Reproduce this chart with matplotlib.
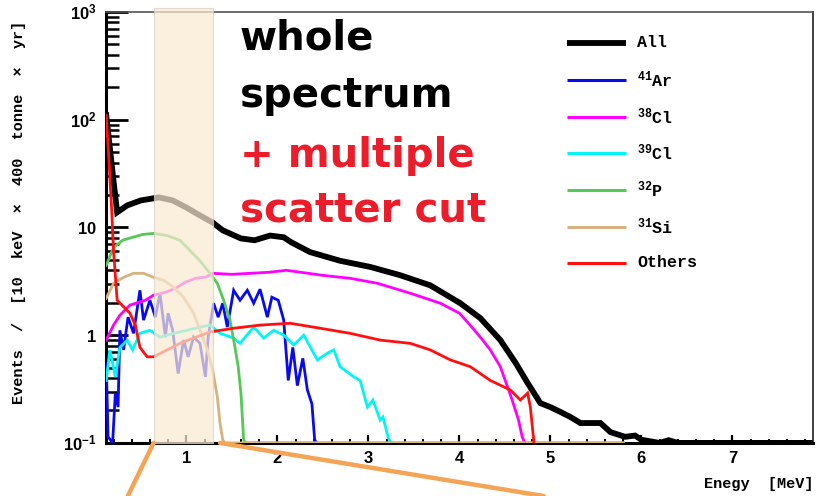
import matplotlib.pyplot as plt
from matplotlib.patches import ConnectionPatch
from matplotlib.ticker import MultipleLocator, LogLocator, NullFormatter

plt.rcParams['mathtext.fontset'] = 'custom'
plt.rcParams['mathtext.rm'] = 'Liberation Mono:bold'
plt.rcParams['mathtext.sf'] = 'Liberation Sans:bold'
plt.rcParams['mathtext.default'] = 'rm'

# Spectra (events / 10 keV / 400 t / yr) versus energy in MeV
e_all = [0.12, 0.15, 0.20, 0.24, 0.35, 0.50, 0.70, 0.85, 1.00, 1.15, 1.29, 1.40,
         1.60, 1.75, 1.92, 2.07, 2.15, 2.36, 2.69, 3.02, 3.35, 3.68, 4.01, 4.23,
         4.45, 4.62, 4.75, 4.89, 5.00, 5.11, 5.22, 5.33, 5.55, 5.66, 5.82, 5.93,
         6.00, 6.20, 6.30, 6.40, 7.90]
v_all = [110, 65, 27, 13.8, 16.0, 17.8, 19.0, 17.8, 15.3, 12.9, 11.1, 9.4,
         7.9, 7.6, 8.4, 8.1, 7.3, 5.9, 4.9, 4.3, 3.6, 2.9, 1.98, 1.44,
         0.90, 0.55, 0.36, 0.234, 0.215, 0.194, 0.174, 0.153, 0.153, 0.126, 0.114, 0.117,
         0.107, 0.1, 0.106, 0.1, 0.1]

e_ar41 = [0.12, 0.14, 0.19, 0.22, 0.25, 0.27, 0.31, 0.36, 0.42, 0.49, 0.53, 0.60,
          0.66, 0.71, 0.77, 0.80, 0.85, 0.91, 0.97, 1.02, 1.08, 1.15, 1.21, 1.24,
          1.30, 1.35, 1.40, 1.45, 1.52, 1.59, 1.67, 1.74, 1.81, 1.89, 1.94, 2.01,
          2.07, 2.12, 2.17, 2.22, 2.28, 2.33, 2.38, 2.41, 2.43]
v_ar41 = [0.55, 0.114, 0.1, 0.29, 0.215, 1.11, 0.73, 1.47, 1.04, 2.61, 1.38, 2.11,
          1.47, 2.45, 0.96, 1.60, 1.11, 0.44, 0.90, 0.63, 0.96, 0.84, 0.41, 0.96,
          1.98, 1.47, 1.98, 1.19, 2.61, 2.11, 2.61, 1.98, 2.67, 1.47, 2.25, 2.11,
          1.38, 0.38, 0.77, 0.34, 0.61, 0.31, 0.23, 0.107, 0.1]

e_cl38 = [0.12, 0.20, 0.27, 0.38, 0.55, 0.64, 0.77, 0.88, 0.99, 1.10, 1.21, 1.29,
          1.50, 1.90, 2.10, 2.50, 2.80, 3.10, 3.46, 3.79, 4.00, 4.07, 4.23, 4.34,
          4.45, 4.53, 4.58, 4.65, 4.69, 4.72]
v_cl38 = [0.90, 1.24, 1.53, 1.90, 2.11, 2.35, 2.50, 2.72, 3.10, 3.37, 3.45, 3.75,
          3.67, 3.83, 4.0, 3.59, 3.37, 3.03, 2.45, 1.98, 1.60, 1.38, 0.96, 0.73,
          0.51, 0.33, 0.25, 0.163, 0.114, 0.1]

e_cl39 = [0.12, 0.16, 0.22, 0.27, 0.35, 0.41, 0.49, 0.60, 0.71, 0.86, 1.01, 1.15,
          1.26, 1.37, 1.52, 1.59, 1.74, 1.85, 1.96, 2.07, 2.18, 2.29, 2.44, 2.55,
          2.62, 2.69, 2.84, 2.91, 2.99, 3.05, 3.13, 3.16, 3.22, 3.25]
v_cl39 = [0.38, 0.73, 0.41, 0.77, 0.90, 0.73, 1.04, 1.11, 0.96, 1.04, 1.11, 1.19,
          1.24, 1.04, 0.94, 0.84, 1.19, 0.94, 1.11, 1.0, 0.81, 1.0, 0.59, 0.68,
          0.73, 0.51, 0.41, 0.38, 0.215, 0.25, 0.163, 0.174, 0.111, 0.1]

e_p32 = [0.12, 0.20, 0.30, 0.41, 0.52, 0.64, 0.79, 0.93, 1.04, 1.15, 1.26, 1.34,
         1.41, 1.48, 1.53, 1.57, 1.60, 1.63, 1.65, 5.80]
v_p32 = [4.45, 6.5, 7.6, 8.1, 8.6, 8.8, 8.4, 7.6, 6.1, 4.9, 3.75, 3.03,
         2.11, 1.38, 0.81, 0.51, 0.29, 0.107, 0.1, 0.1]

e_si31 = [0.12, 0.20, 0.31, 0.42, 0.53, 0.64, 0.75, 0.86, 0.97, 1.08, 1.15, 1.23,
          1.29, 1.34, 1.37, 1.40, 1.42, 5.80]
v_si31 = [2.2, 3.03, 3.44, 3.75, 3.75, 3.44, 3.23, 2.78, 2.25, 1.60, 1.11, 0.73,
          0.47, 0.27, 0.153, 0.107, 0.1, 0.1]

e_oth = [0.12, 0.15, 0.18, 0.20, 0.24, 0.38, 0.44, 0.49, 0.57, 0.64, 0.79, 0.93,
         1.08, 1.26, 1.52, 1.81, 2.14, 2.47, 2.80, 3.13, 3.46, 3.68, 3.90, 4.12,
         4.34, 4.56, 4.67, 4.75, 4.78, 4.82]
v_oth = [109, 41.7, 14.4, 6.1, 2.11, 1.60, 1.24, 0.77, 0.63, 0.63, 0.73, 0.84,
         0.94, 1.07, 1.16, 1.24, 1.29, 1.16, 1.04, 0.90, 0.84, 0.73, 0.59, 0.51,
         0.38, 0.31, 0.25, 0.29, 0.215, 0.1]

names = ['All', r'$^{41}$Ar', r'$^{38}$Cl', r'$^{39}$Cl', r'$^{32}$P', r'$^{31}$Si', 'Others']
colors = ['black', '#0a0af0', '#ff00ff', '#00f5f5', '#55c855', '#d6b37e', '#ff1010']
series = [(e_all, v_all), (e_ar41, v_ar41), (e_cl38, v_cl38), (e_cl39, v_cl39),
          (e_p32, v_p32), (e_si31, v_si31), (e_oth, v_oth)]

window = (0.64, 1.29)  # selected energy window

fig = plt.figure(figsize=(8.3, 4.96), dpi=100)
ax = fig.add_axes([0.128, 0.107, 0.852, 0.869])

for (e, v), c, n in zip(series, colors, names):
    ax.plot(e, v, color=c, lw=4.2 if n == 'All' else 2.0, solid_joinstyle='miter',
            zorder=3)

ax.set_yscale('log')
ax.set_xlim(0.12, 7.89)
ax.set_ylim(0.1, 1000)

ax.set_yticks([0.1, 1, 10, 100, 1000])
ax.set_yticklabels([r'$\mathsf{10^{-1}}$', r'$\mathsf{1}$', r'$\mathsf{10}$',
                    r'$\mathsf{10^{2}}$', r'$\mathsf{10^{3}}$'], fontsize=12)
ax.yaxis.set_minor_locator(LogLocator(base=10, subs=range(2, 10)))
ax.yaxis.set_minor_formatter(NullFormatter())
ax.set_xticks(range(1, 8))
ax.set_xticklabels([str(i) for i in range(1, 8)], fontsize=12, fontweight='bold',
                   family='Liberation Sans')
ax.xaxis.set_minor_locator(MultipleLocator(0.2))

ax.tick_params(axis='y', which='major', direction='in', length=16, width=2.0, pad=7)
ax.tick_params(axis='y', which='minor', direction='in', length=9, width=1.8)
ax.tick_params(axis='x', which='major', direction='in', length=6, width=1.6, pad=6)
ax.tick_params(axis='x', which='minor', direction='in', length=3, width=1.4)

ax.spines['left'].set_linewidth(2.2)
ax.spines['bottom'].set_linewidth(2.2)
ax.spines['top'].set_linewidth(1.2)
ax.spines['top'].set_color('#555555')
ax.spines['right'].set_linewidth(1.3)
ax.spines['right'].set_color('#333333')

mono = dict(family='Liberation Mono', fontweight='bold')
ax.set_ylabel('Events  /  [10  keV  \u00d7  400  tonne  \u00d7  yr]', fontsize=11, **mono)
ax.yaxis.set_label_coords(-0.113, 0.536)
ax.set_xlabel('Enegy  [MeV]', fontsize=11, ha='right', **mono)
ax.xaxis.set_label_coords(1.0, -0.079)

# legend
rows = [43, 80, 117, 153, 190, 227, 263]
for yp, c, n in zip(rows, colors, names):
    yf = (443 - yp) / 431
    ax.plot([0.652, 0.7355], [yf, yf], transform=ax.transAxes, color=c,
            lw=4.2 if n == 'All' else 2.2, solid_capstyle='butt')
    ax.text(0.751, yf, n, transform=ax.transAxes, va='center', ha='left',
            fontsize=12, **mono)

# highlighted window
ax.axvspan(window[0], window[1], ymin=0, ymax=1.009, facecolor=(0.98, 0.914, 0.824),
           alpha=0.72, edgecolor='#d9d0c6', lw=0.8, zorder=5, clip_on=False)

orange = '#f5a455'
for xa, xb in [(window[0], 0.154), (1.37, 0.655)]:
    con = ConnectionPatch(xyA=(xa, 0.1), coordsA=ax.transData, xyB=(xb, 0.0),
                          coordsB=fig.transFigure, color=orange, lw=3.2, zorder=6)
    fig.add_artist(con)

big = dict(family='DejaVu Sans', fontweight='bold', fontsize=29, va='baseline', ha='left')
fig.text(240 / 830, 1 - 50 / 496, 'whole', color='black', **big)
fig.text(240 / 830, 1 - 107 / 496, 'spectrum', color='black', **big)
fig.text(240 / 830, 1 - 167 / 496, '+ multiple', color='#ed1c2a', **big)
fig.text(240 / 830, 1 - 222 / 496, 'scatter cut', color='#ed1c2a', **big)

fig.savefig('out.png', dpi=100)
